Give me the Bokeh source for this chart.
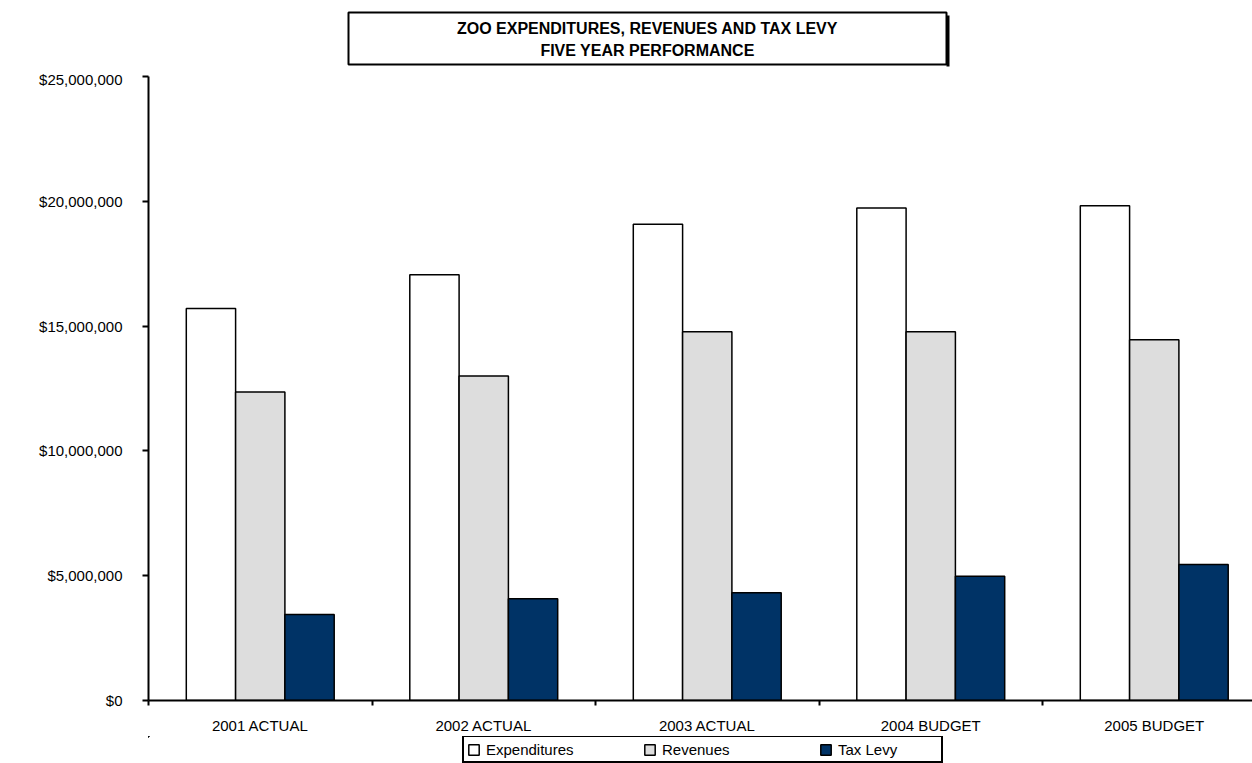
from bokeh.plotting import figure
from bokeh.layouts import column
from bokeh.models import (ColumnDataSource, Range1d, FixedTicker, NumeralTickFormatter,
                          Legend, LegendItem, Label, BoxAnnotation)
from bokeh.transform import dodge
from bokeh.embed import file_html
from bokeh.resources import INLINE

# ---- data ----
categories = ["2001 ACTUAL", "2002 ACTUAL", "2003 ACTUAL", "2004 BUDGET", "2005 BUDGET"]
expenditures = [15710000, 17060000, 19080000, 19730000, 19820000]
revenues = [12360000, 13000000, 14770000, 14770000, 14450000]
tax_levy = [3450000, 4080000, 4320000, 4980000, 5450000]
y_ticks = [0, 5000000, 10000000, 15000000, 20000000, 25000000]
series_names = ["Expenditures", "Revenues", "Tax Levy"]
series_colors = ["#FFFFFF", "#DDDDDD", "#003366"]
title_lines = ["ZOO EXPENDITURES, REVENUES AND TAX LEVY", "FIVE YEAR PERFORMANCE"]

# ---- layout ----
W, H = 1252, 763
TITLE_H = 70
LEG_H = 27
MAIN_H = H - TITLE_H - LEG_H
LEFT, TOP = 148, 6
BOTTOM = MAIN_H - TOP - 624
CAT_W = 223.5
frame_w = W - LEFT
bar_w = 0.2206
font = "Liberation Sans"

idx = list(range(len(categories)))
src = ColumnDataSource(dict(x=idx, exp=expenditures, rev=revenues, tax=tax_levy))

# ---- title strip (frame is aligned with the main chart's frame: x 148..1252) ----
t = figure(width=W, height=TITLE_H, output_backend="svg", toolbar_location=None,
           x_range=Range1d(LEFT, W), y_range=Range1d(TITLE_H, 0),
           x_axis_type=None, y_axis_type=None, min_border=0,
           background_fill_color="white", border_fill_color="white")
t.outline_line_color = None
t.grid.visible = False
t.add_layout(BoxAnnotation(left=946, right=949, top=15, bottom=66,
                           fill_color="black", fill_alpha=1.0,
                           line_color=None))
t.add_layout(BoxAnnotation(left=348, right=946, top=12, bottom=64,
                           fill_color="white", fill_alpha=1.0,
                           line_color="black", line_alpha=1.0, line_width=2))
for ty, txt in zip([28, 50], title_lines):
    t.add_layout(Label(x=647, y=ty, text=txt,
                       text_align="center", text_baseline="middle",
                       text_font=font, text_font_style="bold",
                       text_font_size="16px", text_color="black"))

# ---- main chart ----
p = figure(width=W, height=MAIN_H, output_backend="svg", toolbar_location=None,
           x_range=Range1d(-0.5, -0.5 + frame_w / CAT_W), y_range=Range1d(0, y_ticks[-1]),
           min_border_left=LEFT, min_border_right=0, min_border_top=TOP,
           min_border_bottom=BOTTOM, background_fill_color="white",
           border_fill_color="white")
p.outline_line_color = None
p.xgrid.visible = False
p.ygrid.visible = False

fields = ["exp", "rev", "tax"]
offsets = [-bar_w, 0.0, bar_w]
for f, off, c in zip(fields, offsets, series_colors):
    p.vbar(x=dodge("x", off, range=p.x_range), top=f, width=bar_w, source=src,
           fill_color=c, line_color="black", line_width=1.5)

xa = p.xaxis[0]
xa.ticker = FixedTicker(ticks=idx, minor_ticks=[i - 0.5 for i in idx] + [len(idx) - 0.5])
xa.major_label_overrides = {i: c for i, c in zip(idx, categories)}
xa.major_tick_out = 5
xa.major_tick_in = 0
xa.major_tick_line_color = None
xa.minor_tick_out = 5
xa.minor_tick_in = 0
xa.minor_tick_line_color = "black"
xa.minor_tick_line_width = 2
xa.axis_line_color = "black"
xa.axis_line_width = 2
xa.major_label_standoff = 11
xa.major_label_text_font = font
xa.major_label_text_font_size = "15px"
xa.major_label_text_color = "black"

ya = p.yaxis[0]
ya.ticker = FixedTicker(ticks=y_ticks)
ya.formatter = NumeralTickFormatter(format="$0,0")
ya.major_tick_out = 6
ya.major_tick_in = 0
ya.major_tick_line_width = 2
ya.major_tick_line_color = "black"
ya.minor_tick_out = 0
ya.minor_tick_in = 0
ya.axis_line_color = "black"
ya.axis_line_width = 2
ya.major_label_standoff = 20
ya.major_label_text_font = font
ya.major_label_text_font_size = "15px"
ya.major_label_text_color = "black"

# ---- legend strip ----
# key renderers share the chart's data; this strip's ranges keep their bars
# entirely out of view, so they serve only as legend swatches
lg = figure(width=W, height=LEG_H, output_backend="svg", toolbar_location=None,
            x_range=Range1d(LEFT, W), y_range=Range1d(-2 * y_ticks[-1], -y_ticks[-1]),
            x_axis_type=None, y_axis_type=None, min_border=0,
            background_fill_color="white", border_fill_color="white")
lg.outline_line_color = None
lg.grid.visible = False
key_renderers = [lg.vbar(x="x", top=f, width=0.1, source=src, fill_color=c,
                         line_color="black", line_width=1.5)
                 for f, c in zip(fields, series_colors)]
legend = Legend(items=[LegendItem(label=n, renderers=[r], index=0)
                       for n, r in zip(series_names, key_renderers)],
                orientation="horizontal", location=(462 - LEFT, 0),
                border_line_color="black", border_line_width=2, border_line_alpha=1.0,
                background_fill_color="white", background_fill_alpha=1.0,
                padding=3, spacing=57, label_width=100, label_standoff=6,
                glyph_width=13, glyph_height=13, label_height=18,
                label_text_font=font, label_text_font_size="15px",
                label_text_color="black", margin=0)
lg.add_layout(legend)

layout = column(t, p, lg, spacing=0)
open("out.html", "w").write(file_html(layout, INLINE))
